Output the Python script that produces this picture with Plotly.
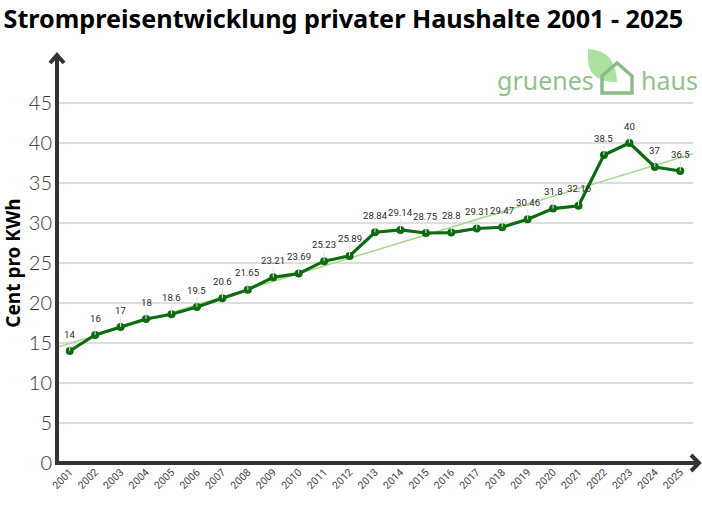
import numpy as np
import plotly.graph_objects as go

years = list(range(2001, 2026))
prices = [14, 16, 17, 18, 18.6, 19.5, 20.6, 21.65, 23.21, 23.69, 25.23, 25.89,
          28.84, 29.14, 28.75, 28.8, 29.31, 29.47, 30.46, 31.8, 32.16, 38.5, 40, 37, 36.5]
y_ticks = [0, 5, 10, 15, 20, 25, 30, 35, 40, 45]
title_text = "Strompreisentwicklung privater Haushalte 2001 - 2025"
y_title = "Cent pro KWh"

W, H = 702, 515
ML, MR, MT, MB = 57, 9, 63, 52
PW, PH = W - ML - MR, H - MT - MB


def px(x):
    return (x - ML) / PW


def py(y):
    return (H - MB - y) / PH


# linear trend (least squares) over the data
coef = np.polyfit(years, prices, 1)
tx = [2000.5, 2025.5]
ty = [coef[0] * t + coef[1] for t in tx]

fig = go.Figure()
fig.add_trace(go.Scatter(x=tx, y=ty, mode="lines",
                         line=dict(color="#a6d68f", width=1.5),
                         hoverinfo="skip", showlegend=False))
fig.add_trace(go.Scatter(x=years, y=prices, mode="lines+markers",
                         line=dict(color="#0f6b12", width=3.2),
                         marker=dict(color="#0f6b12", size=8),
                         showlegend=False))

for x, v in zip(years, prices):
    fig.add_annotation(x=x, y=v, text=f"{v:g}", showarrow=True, ax=0, ay=-17,
                       arrowhead=0, arrowwidth=1, arrowcolor="#e2e2e2",
                       font=dict(family="Roboto", size=9.6, color="#2a2a2a"))

shapes = []
line_style = dict(color="#333333", width=4)
# y axis with arrow
shapes.append(dict(type="line", xref="paper", yref="paper", x0=0, x1=0,
                   y0=py(465), y1=py(55), line=line_style))
shapes.append(dict(type="path", xref="paper", yref="paper",
                   path=f"M {px(50)},{py(63)} L {px(57)},{py(55)} L {px(64)},{py(63)}",
                   line=line_style))
# x axis with arrow
shapes.append(dict(type="line", xref="paper", yref="paper", x0=px(55), x1=px(699),
                   y0=0, y1=0, line=line_style))
shapes.append(dict(type="path", xref="paper", yref="paper",
                   path=f"M {px(691)},{py(455)} L {px(699)},{py(463)} L {px(691)},{py(471)}",
                   line=line_style))
# logo: leaf + house
shapes.append(dict(type="path", xref="paper", yref="paper",
                   path=(f"M {px(588)},{py(49)} Q {px(616)},{py(50)} {px(617)},{py(82)} "
                         f"Q {px(589)},{py(82)} {px(588)},{py(60)} Z"),
                   fillcolor="#a9e39d", line=dict(width=0)))
shapes.append(dict(type="path", xref="paper", yref="paper",
                   path=(f"M {px(602)},{py(93)} L {px(602)},{py(76)} L {px(617)},{py(63)} "
                         f"L {px(632)},{py(76)} L {px(632)},{py(93)} Z"),
                   fillcolor="rgba(0,0,0,0)", line=dict(color="#8fba8c", width=3.5)))

fig.add_annotation(xref="paper", yref="paper", x=px(596), y=py(99), xanchor="right",
                   yanchor="bottom", text="gruenes", showarrow=False,
                   font=dict(family="Noto Sans", size=25, color="#93bf91"))
fig.add_annotation(xref="paper", yref="paper", x=px(639), y=py(99), xanchor="left",
                   yanchor="bottom", text="haus", showarrow=False,
                   font=dict(family="Noto Sans", size=25, color="#93bf91"))

fig.update_layout(
    width=W, height=H,
    margin=dict(l=ML, r=MR, t=MT, b=MB, autoexpand=False),
    paper_bgcolor="white", plot_bgcolor="white",
    shapes=shapes,
    title=dict(text=f"<b>{title_text}</b>", x=0.005, xanchor="left", y=0.963, yanchor="middle",
               font=dict(family="Noto Sans", size=25.2, color="#000")),
    xaxis=dict(range=[2000.5, 2025.5], tickmode="array", tickvals=years,
               ticktext=[str(y) for y in years], tickangle=-45, showgrid=False,
               zeroline=False, showline=False, ticks="", automargin=False,
               tickfont=dict(family="Roboto", size=10.5, color="#444")),
    yaxis=dict(range=[0, 50], tickmode="array", tickvals=y_ticks, automargin=False,
               showgrid=True, gridcolor="#dedede", gridwidth=1.5, zeroline=False,
               showline=False, ticks="", ticklabelstandoff=4,
               tickfont=dict(family="Lato", size=20, color="#333", weight=300),
               title=dict(text=f"<b>{y_title}</b>", standoff=4,
                          font=dict(family="Noto Sans", size=19, color="#000"))),
)

fig.write_html("out.html", config={"displayModeBar": False})

# remove the browser's default page margin so the figure starts at the corner
with open("out.html", encoding="utf-8") as f:
    html = f.read()
html = html.replace("<body>", '<body style="margin:0;overflow:hidden">', 1)
with open("out.html", "w", encoding="utf-8") as f:
    f.write(html)
